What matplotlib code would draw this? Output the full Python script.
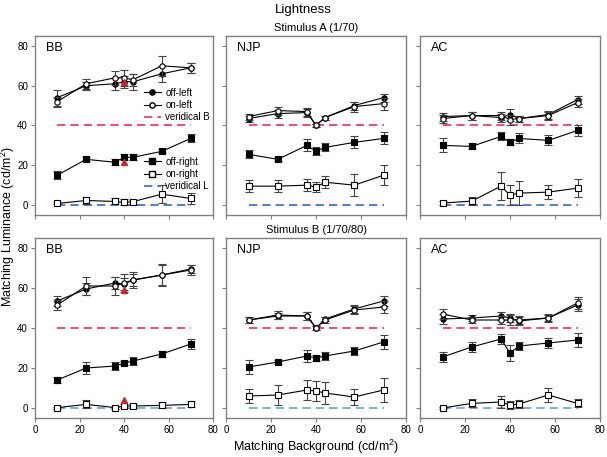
import matplotlib
matplotlib.use("Agg")
from matplotlib import pyplot as plt
from matplotlib.lines import Line2D

plt.rcParams['font.family'] = ['Liberation Sans', 'DejaVu Sans']
plt.rcParams['mathtext.fontset'] = 'custom'
plt.rcParams['mathtext.rm'] = 'Liberation Sans'
plt.rcParams['mathtext.it'] = 'Liberation Sans'

# background luminances (cd/m2)
bg = [10, 23, 36, 40, 44, 57, 70]
subjects = ["BB", "NJP", "AC"]
stimuli = ["Stimulus A (1/70)", "Stimulus B (1/70/80)"]
veridical_b = 40
veridical_l = 0

# ---- Stimulus A ----
a_bb_offL = [54, 60, 61, 62, 62, 66, 69]
a_bb_offL_err = [4, 2, 3, 3, 4, 4, 2.5]
a_bb_onL = [52, 61, 64, 64, 63, 70, 69]
a_bb_onL_err = [2.5, 2.5, 3.5, 4, 3, 5, 2.5]
a_bb_offR = [15, 23, 21.5, 24, 24, 27, 33.5]
a_bb_offR_err = [2, 1, 1.5, 1.5, 1.5, 1, 2]
a_bb_onR = [0.8, 2.3, 1.8, 1.3, 1.7, 5.5, 3.3]
a_bb_onR_err = [0.5, 2, 1.5, 1.5, 1, 4.5, 3]

a_njp_offL = [43.5, 46, 46.5, 40, 44, 50, 54]
a_njp_offL_err = [1.5, 2, 2, 1, 1, 2, 2]
a_njp_onL = [44.5, 47.5, 47, 40, 44, 49.5, 51]
a_njp_onL_err = [1.5, 2, 2, 1, 1, 2.5, 3]
a_njp_offR = [25.5, 23, 30, 27, 29, 31.5, 33.5]
a_njp_offR_err = [2, 1, 3, 2, 2, 3, 3]
a_njp_onR = [9.5, 9.5, 10, 9, 11.5, 10, 15]
a_njp_onR_err = [3, 3, 3, 2.5, 3, 5.5, 5]

a_ac_offL = [44.5, 45, 44, 45.5, 43.5, 45.5, 53]
a_ac_offL_err = [2, 2, 2, 3, 1.5, 2, 2]
a_ac_onL = [43.5, 45, 45, 43, 43.5, 45, 51.5]
a_ac_onL_err = [2, 2, 2, 2.5, 1.5, 2, 2]
a_ac_offR = [30, 29.5, 34.5, 31.5, 33.5, 32.5, 37.5]
a_ac_offR_err = [3.5, 1.5, 2, 1.5, 2.5, 2.5, 3]
a_ac_onR = [1, 2, 9.5, 5, 6, 6.5, 8.5]
a_ac_onR_err = [1, 2, 7, 5, 6, 3.5, 4.5]

# ---- Stimulus B ----
b_bb_offL = [53.5, 59.5, 62.5, 62, 64, 66.5, 69.5]
b_bb_offL_err = [2.5, 3, 3, 3, 3, 5, 2]
b_bb_onL = [51.5, 61, 61, 62.5, 64, 66.5, 69]
b_bb_onL_err = [2.5, 4.5, 4.5, 4.5, 4, 5.5, 2.5]
b_bb_offR = [14, 20, 21, 22.5, 23.5, 27, 32]
b_bb_offR_err = [1.5, 3, 2, 1, 2, 1.5, 2.5]
b_bb_onR = [0.2, 1.8, 0.2, 1, 1, 1.3, 1.8]
b_bb_onR_err = [0.5, 2, 0.5, 1, 1, 1.5, 1.5]

b_njp_offL = [44, 46, 46, 40, 44.5, 49.5, 53.5]
b_njp_offL_err = [1.5, 1.5, 2, 1, 1, 2, 2.5]
b_njp_onL = [44, 46.5, 46, 40, 44, 49, 50.5]
b_njp_onL_err = [1.5, 2, 2, 1, 1.5, 2, 3]
b_njp_offR = [20.5, 23, 26, 25, 26, 28.5, 33]
b_njp_offR_err = [3.5, 1, 3, 1.5, 2, 2, 3.5]
b_njp_onR = [6, 6.5, 9, 8.5, 7.5, 5.5, 9]
b_njp_onR_err = [3.5, 5, 5, 5, 5.5, 4, 6]

b_ac_offL = [44.5, 45, 46, 45, 43.5, 45, 51.5]
b_ac_offL_err = [2.5, 1.5, 2, 2, 2, 2, 3]
b_ac_onL = [47, 44, 44, 44, 44, 45, 52.5]
b_ac_onL_err = [2.5, 1.5, 2, 2.5, 2, 1.5, 3]
b_ac_offR = [25.5, 30.5, 34.5, 27.5, 31, 32.5, 34]
b_ac_offR_err = [2.5, 2.5, 2.5, 4, 2, 2.5, 3.5]
b_ac_onR = [0, 2.3, 3, 1.5, 2, 6.5, 2.3]
b_ac_onR_err = [0.5, 2, 3, 2, 2, 3.5, 2]

# red triangles (BB only)
a_bb_tri_x = [40, 40]
a_bb_tri_y = [62, 21.5]
b_bb_tri_x = [40, 40]
b_bb_tri_y = [59, 4]

data = {
	("A", "BB"): (a_bb_offL, a_bb_offL_err, a_bb_onL, a_bb_onL_err, a_bb_offR, a_bb_offR_err, a_bb_onR, a_bb_onR_err),
	("A", "NJP"): (a_njp_offL, a_njp_offL_err, a_njp_onL, a_njp_onL_err, a_njp_offR, a_njp_offR_err, a_njp_onR, a_njp_onR_err),
	("A", "AC"): (a_ac_offL, a_ac_offL_err, a_ac_onL, a_ac_onL_err, a_ac_offR, a_ac_offR_err, a_ac_onR, a_ac_onR_err),
	("B", "BB"): (b_bb_offL, b_bb_offL_err, b_bb_onL, b_bb_onL_err, b_bb_offR, b_bb_offR_err, b_bb_onR, b_bb_onR_err),
	("B", "NJP"): (b_njp_offL, b_njp_offL_err, b_njp_onL, b_njp_onL_err, b_njp_offR, b_njp_offR_err, b_njp_onR, b_njp_onR_err),
	("B", "AC"): (b_ac_offL, b_ac_offL_err, b_ac_onL, b_ac_onL_err, b_ac_offR, b_ac_offR_err, b_ac_onR, b_ac_onR_err),
}

W, H = 607, 457
fig = plt.figure(figsize=(W/100, H/100), dpi=100)

col_px = [(35, 213), (226, 406), (420, 600)]
row_px = [(36, 215), (238, 418)]
red_col = '#ee3060'
blue_cols = ['#3a68c0', '#6a9fd6']
spine_col = '#808080'
ms = 3.8

for r, stim in enumerate(["A", "B"]):
	for c, subj in enumerate(subjects):
		x0, x1 = col_px[c]
		y0, y1 = row_px[r]
		ax = fig.add_axes([x0/W, 1-y1/H, (x1-x0)/W, (y1-y0)/H])
		offL, offL_e, onL, onL_e, offR, offR_e, onR, onR_e = data[(stim, subj)]

		# veridical lines
		ax.plot([bg[0], bg[-1]], [veridical_b]*2, color=red_col, lw=1.2, ls=(0, (5, 3)), zorder=1)
		ax.plot([bg[0], bg[-1]], [veridical_l]*2, color=blue_cols[r], lw=1.2, ls=(0, (5, 3)), zorder=1)

		kw = dict(color='black', lw=0.8, ecolor='#444444', elinewidth=0.8, capsize=2.6, capthick=0.8, markersize=ms, markeredgecolor='black', markeredgewidth=0.8)
		ax.errorbar(bg, offL, yerr=offL_e, marker='o', markerfacecolor='black', zorder=3, **kw)
		ax.errorbar(bg, onL, yerr=onL_e, marker='o', markerfacecolor='white', zorder=4, **kw)
		ax.errorbar(bg, offR, yerr=offR_e, marker='s', markerfacecolor='black', zorder=3, **kw)
		ax.errorbar(bg, onR, yerr=onR_e, marker='s', markerfacecolor='white', zorder=4, **kw)

		if subj == "BB":
			tx, ty = (a_bb_tri_x, a_bb_tri_y) if stim == "A" else (b_bb_tri_x, b_bb_tri_y)
			ax.plot(tx, ty, ls='none', marker='^', color='#c8282d', markersize=4.5, zorder=5)

		ax.set_xlim(0, 80)
		ax.set_ylim(-5, 85)
		ax.set_xticks([0, 20, 40, 60, 80])
		ax.set_yticks([0, 20, 40, 60, 80])
		for s in ax.spines.values():
			s.set_color(spine_col)
			s.set_linewidth(1.0)
		ax.tick_params(direction='out', length=3, width=0.8, color=spine_col, labelsize=7, pad=2)
		if c != 0:
			ax.set_yticklabels([])
		if r == 0:
			ax.set_xticklabels([])
		ax.text(0.06, 0.965, subj, transform=ax.transAxes, ha='left', va='top', fontsize=9)

		if r == 0 and c == 0:
			h1 = [Line2D([0], [0], color='black', lw=0.8, marker='o', markersize=ms, markerfacecolor='black', markeredgecolor='black'),
				Line2D([0], [0], color='black', lw=0.8, marker='o', markersize=ms, markerfacecolor='white', markeredgecolor='black'),
				Line2D([0], [0], color=red_col, lw=1.2, ls=(0, (5, 3)))]
			leg1 = ax.legend(h1, ["off-left", "on-left", "veridical B"], loc='center left',
				bbox_to_anchor=((144-x0)/(x1-x0), (y1-105)/(y1-y0)), frameon=False, fontsize=7,
				handlelength=1.7, handletextpad=0.5, labelspacing=0.25, borderpad=0, borderaxespad=0)
			ax.add_artist(leg1)
			h2 = [Line2D([0], [0], color='black', lw=0.8, marker='s', markersize=ms, markerfacecolor='black', markeredgecolor='black'),
				Line2D([0], [0], color='black', lw=0.8, marker='s', markersize=ms, markerfacecolor='white', markeredgecolor='black'),
				Line2D([0], [0], color=blue_cols[0], lw=1.2, ls=(0, (5, 3)))]
			ax.legend(h2, ["off-right", "on-right", "veridical L"], loc='center left',
				bbox_to_anchor=((144-x0)/(x1-x0), (y1-174)/(y1-y0)), frameon=False, fontsize=7,
				handlelength=1.7, handletextpad=0.5, labelspacing=0.25, borderpad=0, borderaxespad=0)

	# row title
	fig.text((col_px[1][0]+col_px[1][1])/2/W, 1-(row_px[r][0]-8)/H, stimuli[r], ha='center', va='center', fontsize=8)

fig.text(0.5, 1-10/H, "Lightness", ha='center', va='center', fontsize=9.5)
fig.text((col_px[1][0]+col_px[1][1])/2/W, 1-447/H, "Matching Background (cd/m$^2$)", ha='center', va='center', fontsize=9)
fig.text(8/W, 1-227/H, "Matching Luminance (cd/m$^2$)", ha='center', va='center', rotation=90, fontsize=9)

fig.savefig("out.png", dpi=100)
